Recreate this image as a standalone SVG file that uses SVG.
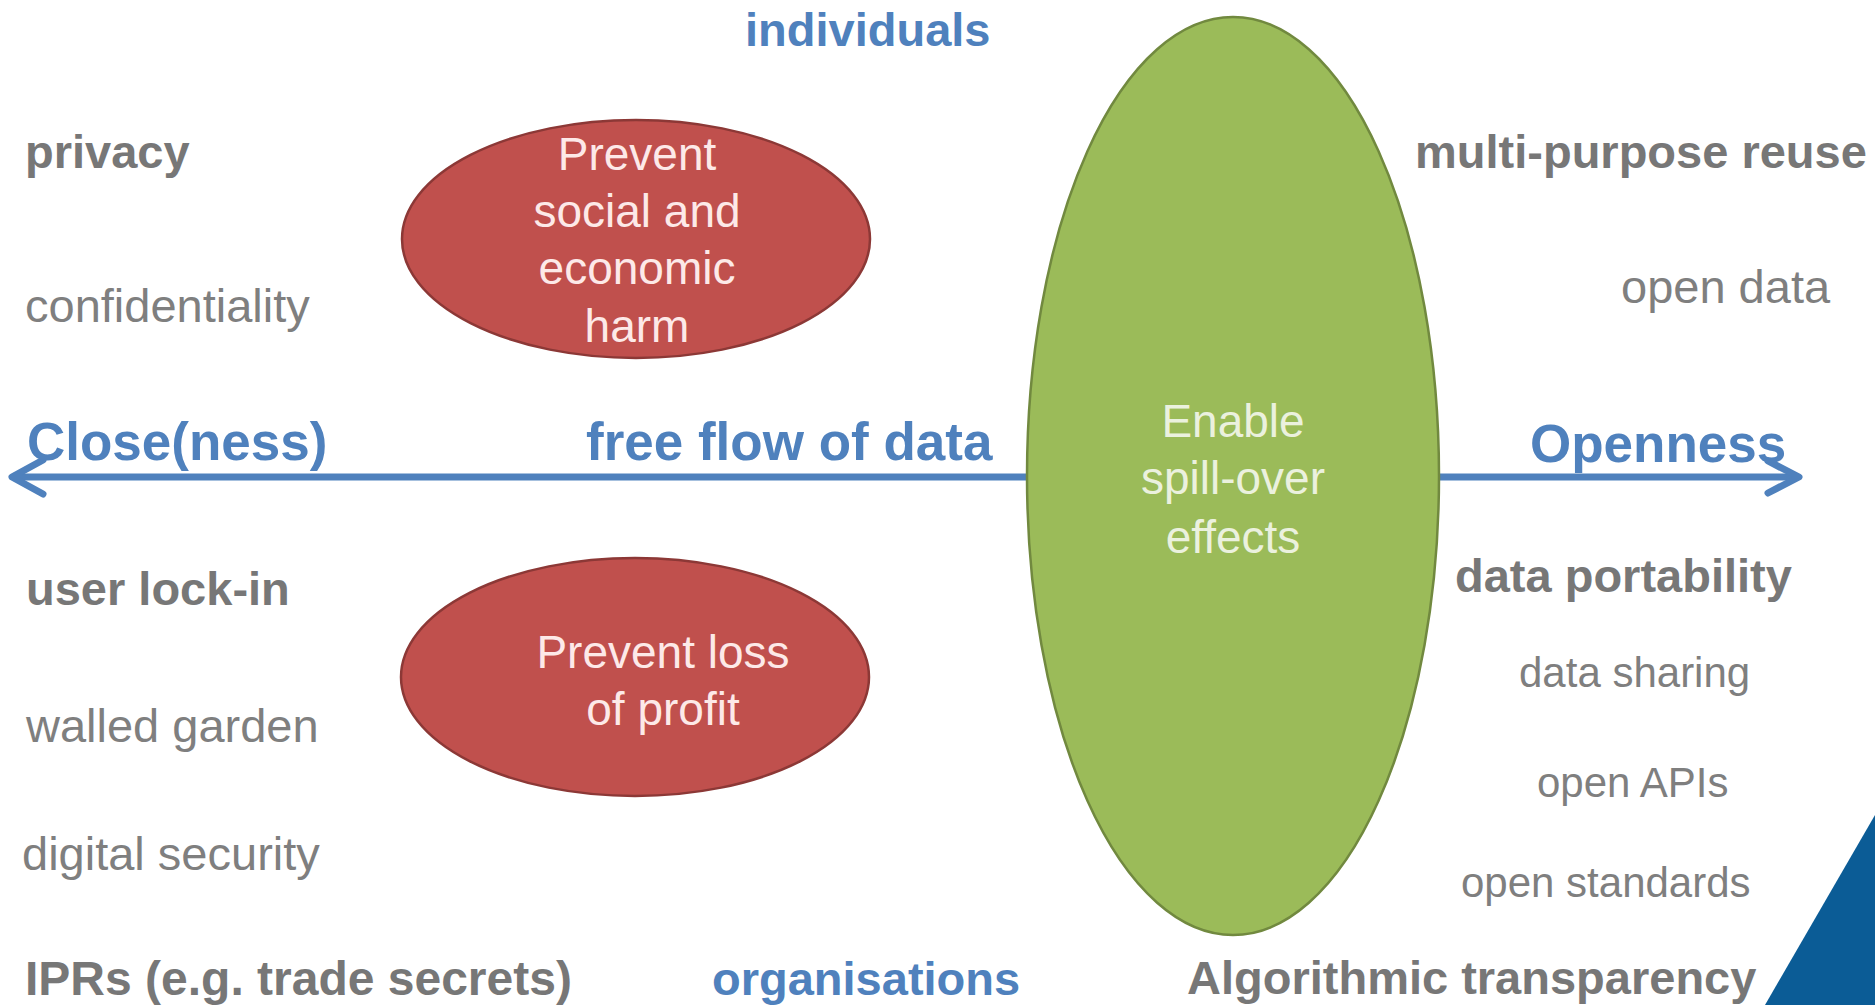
<svg xmlns="http://www.w3.org/2000/svg" width="1875" height="1005" viewBox="0 0 1875 1005">
<style>
  text { font-family: "Liberation Sans", Arial, sans-serif; }
  .gb { font-size: 47px; font-weight: bold; fill: #777777; }
  .gr { font-size: 47px; fill: #7f7f7f; }
  .gs { font-size: 42px; fill: #7f7f7f; }
  .bb { font-size: 47px; font-weight: bold; fill: #4f81bd; }
  .bl { font-size: 53px; font-weight: bold; fill: #4f81bd; }
  .rt { font-size: 46px; fill: #fde9e8; text-anchor: middle; }
  .gt { font-size: 46px; fill: #ebf1de; text-anchor: middle; }
  .red { fill: #c0504d; stroke: #8c3836; stroke-width: 2.5; }
  .green { fill: #9bbb59; stroke: #71893f; stroke-width: 2.5; }
  .axis { fill: none; stroke: #4f81bd; stroke-width: 7; stroke-linecap: round; stroke-linejoin: round; }
</style>
<rect width="1875" height="1005" fill="#ffffff"/>
<polygon points="1765,1005 1875,815 1875,1005" fill="#0b5c96"/>
<g id="connectors">
  <line class="axis" x1="14" y1="477" x2="1797" y2="477"/>
  <polyline class="axis" points="43,460 12,477 43,494"/>
  <polyline class="axis" points="1768,461 1799,477 1768,493"/>
</g>
<g id="node-harm">
  <ellipse class="red" cx="636" cy="239" rx="234" ry="119"/>
  <text class="rt" x="637" y="170">Prevent</text>
  <text class="rt" x="637" y="227">social and</text>
  <text class="rt" x="637" y="284">economic</text>
  <text class="rt" x="637" y="342">harm</text>
</g>
<g id="node-profit">
  <ellipse class="red" cx="635" cy="677" rx="234" ry="119"/>
  <text class="rt" x="663" y="668">Prevent loss</text>
  <text class="rt" x="663" y="725">of profit</text>
</g>
<g id="node-spillover">
  <ellipse class="green" cx="1233" cy="476" rx="206" ry="459"/>
  <text class="gt" x="1233" y="437">Enable</text>
  <text class="gt" x="1233" y="494">spill-over</text>
  <text class="gt" x="1233" y="553">effects</text>
</g>
<g id="labels">
  <text class="bb" x="745" y="46">individuals</text>
  <text class="gb" x="25" y="168">privacy</text>
  <text class="gr" x="25" y="322">confidentiality</text>
  <text class="bl" x="27" y="460">Close(ness)</text>
  <text class="bl" x="586" y="460">free flow of data</text>
  <text class="gb" x="26" y="605">user lock-in</text>
  <text class="gr" x="26" y="742">walled garden</text>
  <text class="gr" x="22" y="870">digital security</text>
  <text class="gb" x="25" y="995" style="font-size:48px">IPRs (e.g. trade secrets)</text>
  <text class="bb" x="712" y="995">organisations</text>
  <text class="gb" x="1187" y="994">Algorithmic transparency</text>
  <text class="gb" x="1415" y="168">multi-purpose reuse</text>
  <text class="gr" x="1621" y="303">open data</text>
  <text class="bl" x="1530" y="462">Openness</text>
  <text class="gb" x="1455" y="592">data portability</text>
  <text class="gs" x="1519" y="687">data sharing</text>
  <text class="gs" x="1537" y="797">open APIs</text>
  <text class="gs" x="1461" y="897">open standards</text>
</g>
</svg>
